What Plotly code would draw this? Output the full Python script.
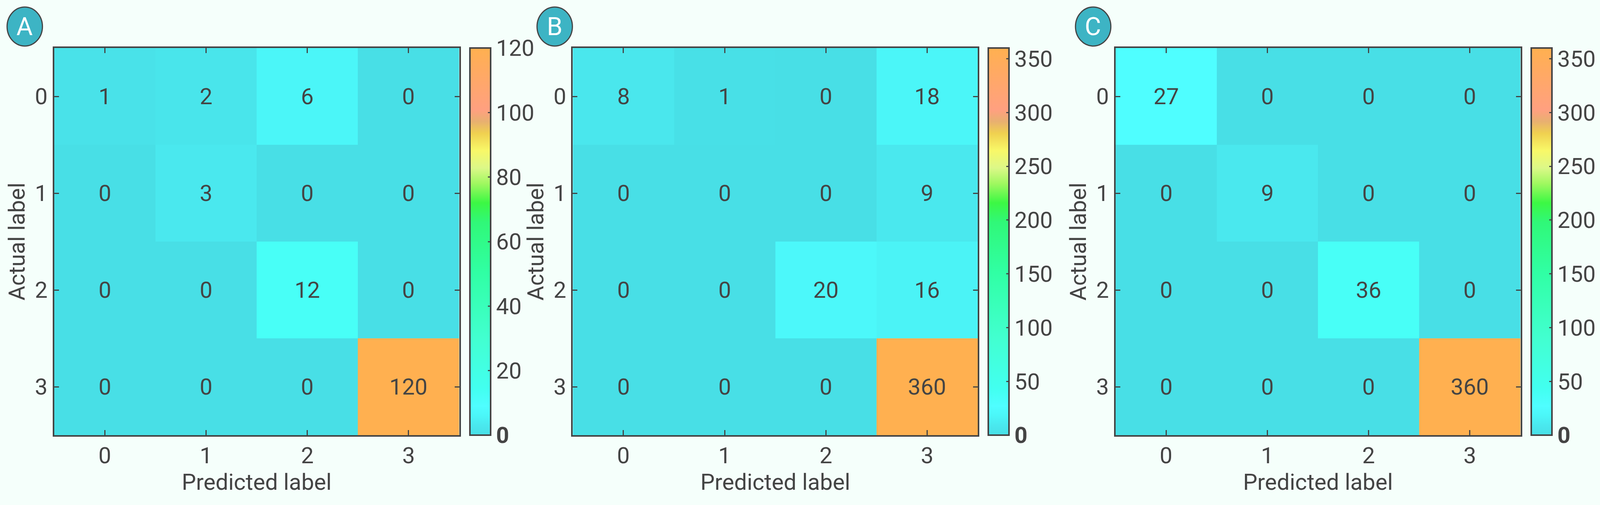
import plotly.graph_objects as go

# confusion matrices, rows = actual label, columns = predicted label
labels = [0, 1, 2, 3]
cm_a = [[1, 2, 6, 0],
        [0, 3, 0, 0],
        [0, 0, 12, 0],
        [0, 0, 0, 120]]
cm_b = [[8, 1, 0, 18],
        [0, 0, 0, 9],
        [0, 0, 20, 16],
        [0, 0, 0, 360]]
cm_c = [[27, 0, 0, 0],
        [0, 9, 0, 0],
        [0, 0, 36, 0],
        [0, 0, 0, 360]]
zmax_vals = [120, 360, 360]
cbar_ticks_a = [0, 20, 40, 60, 80, 100, 120]
cbar_ticks_bc = [0, 50, 100, 150, 200, 250, 300, 350]
panel_tags = ["A", "B", "C"]

# reference geometry in reference pixels; everything is turned into paper
# fractions so the figure simply fills whatever window it is shown in
W, H = 4505, 1294
INK = "#444444"
BG = "#f5fffb"
FONT = "Roboto"
FS = 58

colorscale = [
    [0.0, "#48dfe6"], [0.025, "#4ae8ee"], [0.05, "#4bf6f8"],
    [0.075, "#4ffeff"], [0.12, "#42fff0"], [0.25, "#42ffd0"],
    [0.42, "#30ffa4"], [0.55, "#30f878"], [0.60, "#3cf844"],
    [0.65, "#a0f860"], [0.69, "#dcf888"], [0.735, "#f8f868"],
    [0.78, "#f0d050"], [0.81, "#e8b070"], [0.84, "#ffa080"],
    [0.92, "#ffa868"], [1.0, "#ffb050"],
]

plot_left = [153, 1619, 3153]
plot_w = 1145
top, bottom = 123, 1115
cbar_left = [1328, 2794, 4328]
cbar_w = 58
circle_cx = [70, 1568, 3090]
circle_cy, circle_r = 68, 50

fig = go.Figure()
mats = [cm_a, cm_b, cm_c]
for i, (cm, zmax) in enumerate(zip(mats, zmax_vals)):
    ticks = cbar_ticks_a if i == 0 else cbar_ticks_bc
    ticktext = ["<b>0</b>"] + [str(t) for t in ticks[1:]]
    sfx = "" if i == 0 else str(i + 1)
    fig.add_trace(go.Heatmap(
        z=cm, x=labels, y=labels,
        zmin=0, zmax=zmax,
        colorscale=colorscale,
        texttemplate="%{z}",
        textfont=dict(family=FONT, size=FS, color=INK),
        xaxis="x" + sfx, yaxis="y" + sfx,
        colorbar=dict(
            x=cbar_left[i] / W, xanchor="left", xpad=0,
            y=1 - (top + bottom) / 2 / H, yanchor="middle", ypad=0,
            len=(bottom - top) / H, lenmode="fraction",
            thickness=cbar_w / W, thicknessmode="fraction",
            outlinewidth=4, outlinecolor=INK,
            tickmode="array", tickvals=ticks, ticktext=ticktext,
            ticks="inside", ticklen=9, tickwidth=3, tickcolor=INK,
            tickfont=dict(family=FONT, size=FS, color=INK),
        ),
    ))

    axis_common = dict(
        showline=True, linewidth=4, linecolor=INK, mirror="allticks",
        ticks="inside", tickwidth=3, tickcolor=INK,
        tickmode="array", tickvals=labels,
        tickfont=dict(family=FONT, size=FS, color=INK),
        showgrid=False, zeroline=False,
    )
    xa = dict(axis_common,
              domain=[plot_left[i] / W, (plot_left[i] + plot_w) / W],
              range=[-0.5, 3.5], anchor="y" + sfx,
              ticklen=13, ticklabelstandoff=-2,
              title=dict(text="Predicted label", standoff=8,
                         font=dict(family=FONT, size=FS, color=INK)))
    ya = dict(axis_common,
              domain=[1 - bottom / H, 1 - top / H],
              range=[3.5, -0.5], anchor="x" + sfx,
              ticklen=12, ticklabelstandoff=1,
              title=dict(text="Actual label", standoff=8,
                         font=dict(family=FONT, size=FS, color=INK)))
    fig.update_layout({"xaxis" + sfx: xa, "yaxis" + sfx: ya})

    fig.add_shape(type="circle", xref="paper", yref="paper",
                  x0=(circle_cx[i] - circle_r) / W, x1=(circle_cx[i] + circle_r) / W,
                  y0=1 - (circle_cy + circle_r) / H, y1=1 - (circle_cy - circle_r) / H,
                  fillcolor="#3db4c4", line=dict(color=INK, width=3))
    fig.add_annotation(x=circle_cx[i] / W, y=1 - circle_cy / H,
                       xref="paper", yref="paper", showarrow=False,
                       xanchor="center", yanchor="middle",
                       text=panel_tags[i],
                       font=dict(family=FONT, size=64, color="white"))

fig.update_layout(
    autosize=True,
    margin=dict(l=0, r=0, t=0, b=0),
    paper_bgcolor=BG, plot_bgcolor=BG,
    font=dict(family=FONT, color=INK),
)

# no body margin, same tint behind the plot, then refit the plot to the window
page_js = ("document.body.style.margin='0';"
           "document.body.style.overflow='hidden';"
           "document.body.style.background='" + BG + "';"
           "Plotly.Plots.resize(document.getElementById('{plot_id}'));")
fig.write_html("out.html", post_script=page_js,
               default_width="100vw", default_height="100vh",
               config={"displayModeBar": False, "responsive": True})
